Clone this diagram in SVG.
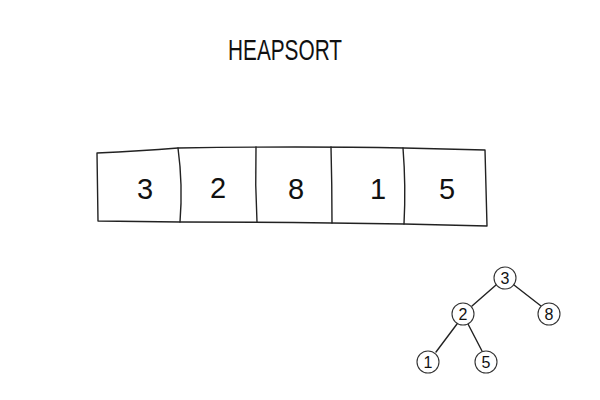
<svg xmlns="http://www.w3.org/2000/svg" width="600" height="400" viewBox="0 0 600 400">
<style>
.ln{fill:none;stroke:#222;stroke-width:1.4;stroke-linecap:round;stroke-linejoin:round}
.nd{fill:#fff;stroke:#333;stroke-width:1.1}
.big{font-family:"Liberation Sans",Arial,sans-serif;font-size:29px;fill:#111;text-anchor:middle}
.sm{font-family:"Liberation Sans",Arial,sans-serif;font-size:16px;fill:#111;text-anchor:middle}
.title{font-family:"Liberation Sans",Arial,sans-serif;font-size:29px;fill:#111}
</style>
<rect width="600" height="400" fill="#fff"/>
<text class="title" x="228" y="60" textLength="114" lengthAdjust="spacingAndGlyphs">HEAPSORT</text>
<g id="array">
<path class="ln" d="M97,153 Q140,151 178,148 Q300,146 404,148 Q450,149 485,150 L487,226 Q440,225 404,224 Q300,222 180,222 L98,221 Z"/>
<path class="ln" d="M178,148 Q183,185 180,222"/>
<path class="ln" d="M256,147 Q255,185 257,222"/>
<path class="ln" d="M331,147 Q332,185 332,223"/>
<path class="ln" d="M403,148 Q406,186 404,224"/>
<text class="big" x="145" y="199">3</text>
<text class="big" x="218" y="198">2</text>
<text class="big" x="296" y="199">8</text>
<text class="big" x="378" y="199">1</text>
<text class="big" x="447" y="199">5</text>
</g>
<g id="edges">
<path class="ln" d="M496,285 L472,306" stroke-width="1.1"/>
<path class="ln" d="M514,285 L541,306" stroke-width="1.1"/>
<path class="ln" d="M457,324 L436,352" stroke-width="1.1"/>
<path class="ln" d="M468,324 L482,351" stroke-width="1.1"/>
</g>
<g id="n3"><circle class="nd" cx="505" cy="278" r="11"/><text class="sm" x="505" y="284">3</text></g>
<g id="n2"><circle class="nd" cx="463" cy="314" r="11"/><text class="sm" x="463" y="320">2</text></g>
<g id="n8"><circle class="nd" cx="549" cy="314" r="11"/><text class="sm" x="549" y="320">8</text></g>
<g id="n1"><circle class="nd" cx="428" cy="362" r="11"/><text class="sm" x="428" y="368">1</text></g>
<g id="n5"><circle class="nd" cx="486" cy="362" r="11"/><text class="sm" x="486" y="368">5</text></g>
</svg>
